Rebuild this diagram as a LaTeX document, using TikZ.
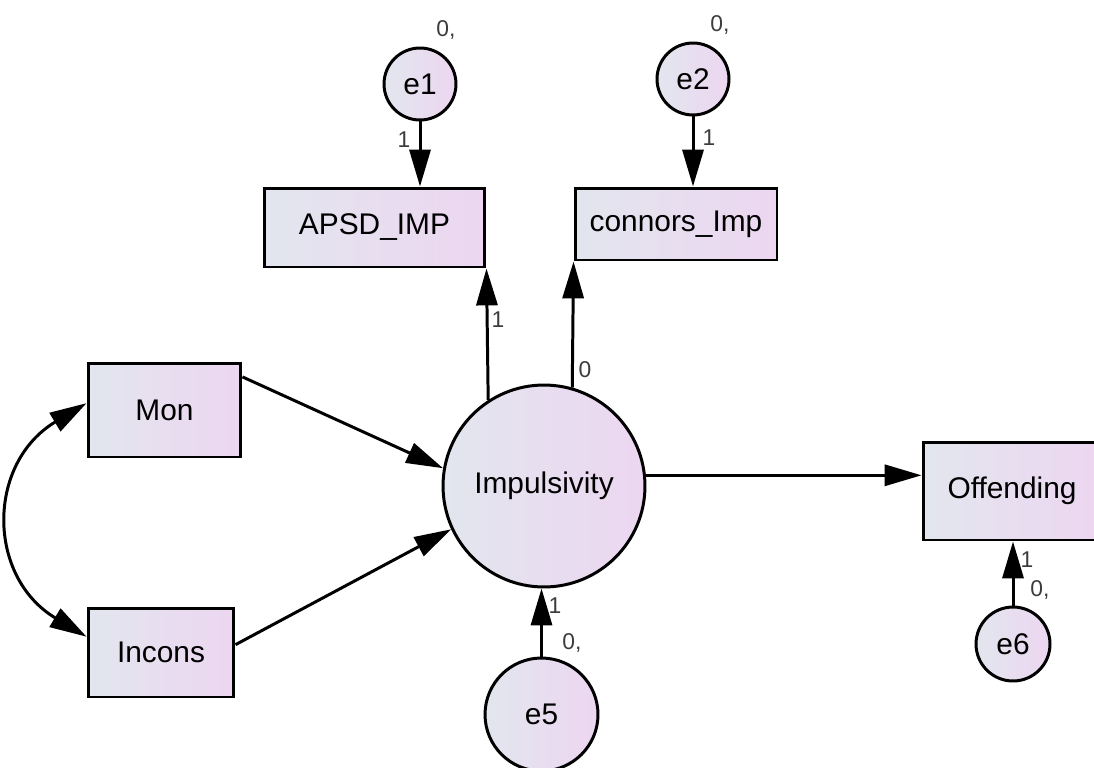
\documentclass[tikz,border=0pt]{standalone}
\usepackage{fontspec}
\setmainfont{Liberation Sans}
\usepackage{xcolor}
\usetikzlibrary{arrows.meta,calc}

\definecolor{amosL}{RGB}{226,230,238}
\definecolor{amosR}{RGB}{237,214,241}
\definecolor{labgray}{RGB}{60,60,60}

\tikzset{
    obs/.style={draw, line width=1.7pt, left color=amosL, right color=amosR, font=\fontsize{17}{20}\selectfont, inner sep=0pt},
    lat/.style={obs, circle},
    arr/.style={line width=1.7pt, -{Triangle[length=21pt,width=12pt]}},
    lab/.style={font=\fontsize{13}{15}\selectfont, text=labgray, inner sep=1pt}
}

\begin{document}
\begin{tikzpicture}[x=0.02cm, y=-0.02cm]
    \useasboundingbox (0,0) rectangle (1094,767);

    % Indicators
    \node[obs, minimum width=4.42cm, minimum height=1.58cm] (apsd) at (374.5,227.5) {APSD\_IMP};
    \node[obs, minimum width=4.04cm, minimum height=1.44cm] (connors) at (676,224) {connors\_Imp};

    % Predictors
    \node[obs, minimum width=3.06cm, minimum height=1.88cm] (mon) at (164.5,410) {Mon};
    \node[obs, minimum width=2.92cm, minimum height=1.78cm] (incons) at (161,652.5) {Incons};

    % Outcome
    \node[obs, minimum width=3.56cm, minimum height=1.96cm] (off) at (1012,491) {Offending};

    % Latent
    \node[lat, minimum size=4.04cm] (imp) at (544,486) {Impulsivity};

    % Errors
    \node[lat, minimum size=1.44cm] (e1) at (420,84) {e1};
    \node[lat, minimum size=1.44cm] (e2) at (693,79) {e2};
    \node[lat, minimum size=2.26cm] (e5) at (541.5,714.5) {e5};
    \node[lat, minimum size=1.48cm] (e6) at (1013,644) {e6};

    % Paths
    \draw[arr] (e1) -- (e1 |- apsd.north);
    \draw[arr] (e2) -- (e2 |- connors.north);
    \draw[arr] (imp.123) -- (apsd.south east);
    \draw[arr] (imp.74) -- (connors.south west);
    \draw[arr] (mon.23) -- (imp.170);
    \draw[arr] (incons.6) -- (imp.205);
    \draw[arr] (imp.6) -- (imp.6 -| off.west);
    \draw[arr] (e5) -- (e5 |- imp.south);
    \draw[arr] (e6) -- (e6 |- off.south);

    % Covariance
    \draw[line width=1.7pt, {Triangle[length=21pt,width=12pt]}-{Triangle[length=21pt,width=12pt]}]
        (mon.175) .. controls +(-100,60) and +(-100,-60) .. (incons.168);

    % Weights and variances
    \node[lab] (w1) at (404,140) {1};
    \node[lab] (w2) at (709,138) {1};
    \node[lab] (w3) at (498,320) {1};
    \node[lab] (w4) at (585,370) {0};
    \node[lab] (w5) at (555,606) {1};
    \node[lab] (w6) at (1027,560) {1};
    \node[lab] (v1) at (446,30) {0,};
    \node[lab] (v2) at (720,25) {0,};
    \node[lab] (v5) at (572,643) {0,};
    \node[lab] (v6) at (1040,590) {0,};
\end{tikzpicture}
\end{document}
